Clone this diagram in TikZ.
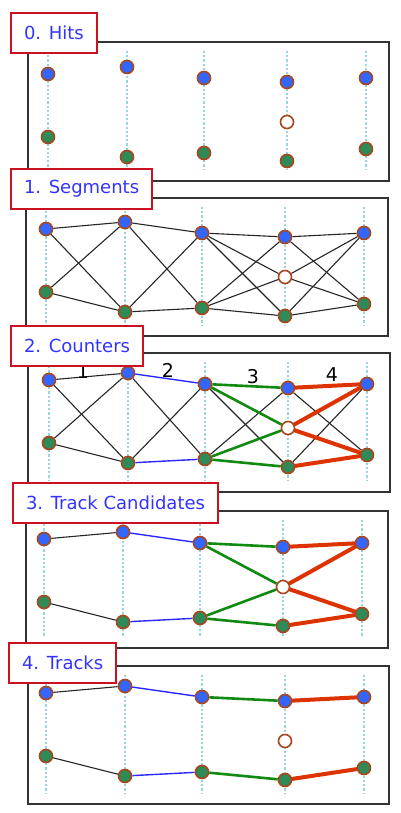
\documentclass[tikz,border=0pt]{standalone}
\usepackage{fontspec}
\setmainfont{DejaVu Sans}
\pgfdeclarelayer{background}
\pgfdeclarelayer{edges}
\pgfsetlayers{background,edges,main}
\definecolor{hitblue}{HTML}{3366FF}
\definecolor{hitgreen}{HTML}{2E8B57}
\definecolor{rim}{HTML}{A8461E}
\definecolor{guidec}{HTML}{9AD4DC}
\definecolor{labred}{HTML}{CC1122}
\definecolor{labblue}{HTML}{3333FF}
\definecolor{edgeblue}{HTML}{2828FF}
\definecolor{edgegreen}{HTML}{118A11}
\definecolor{edgered}{HTML}{DD3300}
\tikzset{
  hitB/.style={circle, fill=hitblue, draw=rim, line width=1.6pt, minimum size=13pt, inner sep=0pt},
  hitG/.style={circle, fill=hitgreen, draw=rim, line width=1.6pt, minimum size=13pt, inner sep=0pt},
  hitO/.style={circle, fill=white, draw=rim, line width=1.6pt, minimum size=13pt, inner sep=0pt},
  frame/.style={draw=black!80, line width=1.5pt, fill=white},
  guide/.style={draw=guidec, line width=2.4pt, dash pattern=on 2.2pt off 2pt},
  seg/.style={draw=black!85, line width=1.1pt},
  segblue/.style={draw=edgeblue, line width=1.4pt},
  seggreen/.style={draw=edgegreen, line width=2.6pt},
  segred/.style={draw=edgered, line width=4pt, line cap=round},
  lab/.style={draw=labred, line width=2pt, fill=white, text=labblue, font=\fontsize{18}{20}\selectfont, inner xsep=13pt, minimum height=40pt, anchor=north west},
  cnt/.style={font=\fontsize{19}{20}\selectfont, text=black, inner sep=0pt}
}
\newcommand{\Panel}[7]{%
  \begin{pgfonlayer}{background}
    \draw[frame] (#4,#2) rectangle (#5,#3);
    \foreach \dx in {0,79,156,239,318} \draw[guide] ({#6+\dx},{#2+9}) -- ({#6+\dx},{#3-11});
  \end{pgfonlayer}
  \foreach \i/\dx/\ty/\by in {1/0/0/63,2/79/-7/83,3/156/4/79,4/239/8/87,5/318/4/75} {
    \node[hitB] (#1t\i) at ({#6+\dx},{#7+\ty}) {};
    \node[hitG] (#1b\i) at ({#6+\dx},{#7+\by}) {};
  }
  \node[hitO] (#1o) at ({#6+239},{#7+48}) {};
}
\begin{document}
\begin{tikzpicture}[x=1pt,y=-1pt]
\useasboundingbox (0,0) rectangle (400,813);
\begin{pgfonlayer}{background}
  \fill[white] (0,0) rectangle (400,813);
\end{pgfonlayer}

% Panel 0: Hits
\Panel{H}{42}{181}{28}{389}{48}{74}
\node[lab] (l0) at (10,12) {0. Hits};

% Panel 1: Segments
\Panel{S}{198}{336}{26}{388}{46}{229}
\begin{pgfonlayer}{edges}
  \foreach \a/\b in {t1/t2,t1/b2,b1/t2,b1/b2,t2/t3,t2/b3,b2/t3,b2/b3,t3/t4,t3/o,t3/b4,b3/t4,b3/o,b3/b4,t4/t5,t4/b5,o/t5,o/b5,b4/t5,b4/b5}
    \draw[seg] (S\a) -- (S\b);
\end{pgfonlayer}
\node[lab] (l1) at (10,168) {1. Segments};

% Panel 2: Counters
\Panel{C}{353}{492}{28}{390}{49}{380}
\begin{pgfonlayer}{edges}
  \foreach \a/\b in {t1/t2,t1/b2,b1/t2,b1/b2,t2/b3,b2/t3,t3/b4,b3/t4,t4/b5,b4/t5}
    \draw[seg] (C\a) -- (C\b);
  \foreach \a/\b in {t2/t3,b2/b3} \draw[segblue] (C\a) -- (C\b);
  \foreach \a/\b in {t3/t4,t3/o,b3/o,b3/b4} \draw[seggreen] (C\a) -- (C\b);
  \foreach \a/\b in {t4/t5,o/t5,o/b5,b4/b5} \draw[segred] (C\a) -- (C\b);
\end{pgfonlayer}
\node[cnt] (c1) at (83,372) {1};
\node[cnt] (c2) at (168,370) {2};
\node[cnt] (c3) at (253,377) {3};
\node[cnt] (c4) at (332,375) {4};
\node[lab] (l2) at (10,325) {2. Counters};

% Panel 3: Track Candidates
\Panel{K}{511}{648}{26}{388}{44}{539}
\begin{pgfonlayer}{edges}
  \foreach \a/\b in {t1/t2,b1/b2} \draw[seg] (K\a) -- (K\b);
  \foreach \a/\b in {t2/t3,b2/b3} \draw[segblue] (K\a) -- (K\b);
  \foreach \a/\b in {t3/t4,t3/o,b3/o,b3/b4} \draw[seggreen] (K\a) -- (K\b);
  \foreach \a/\b in {t4/t5,o/t5,o/b5,b4/b5} \draw[segred] (K\a) -- (K\b);
\end{pgfonlayer}
\node[lab] (l3) at (12,482) {3. Track Candidates};

% Panel 4: Tracks
\Panel{T}{666}{804}{28}{389}{46}{693}
\begin{pgfonlayer}{edges}
  \foreach \a/\b in {t1/t2,b1/b2} \draw[seg] (T\a) -- (T\b);
  \foreach \a/\b in {t2/t3,b2/b3} \draw[segblue] (T\a) -- (T\b);
  \foreach \a/\b in {t3/t4,b3/b4} \draw[seggreen] (T\a) -- (T\b);
  \foreach \a/\b in {t4/t5,b4/b5} \draw[segred] (T\a) -- (T\b);
\end{pgfonlayer}
\node[lab] (l4) at (8,642) {4. Tracks};
\end{tikzpicture}
\end{document}
